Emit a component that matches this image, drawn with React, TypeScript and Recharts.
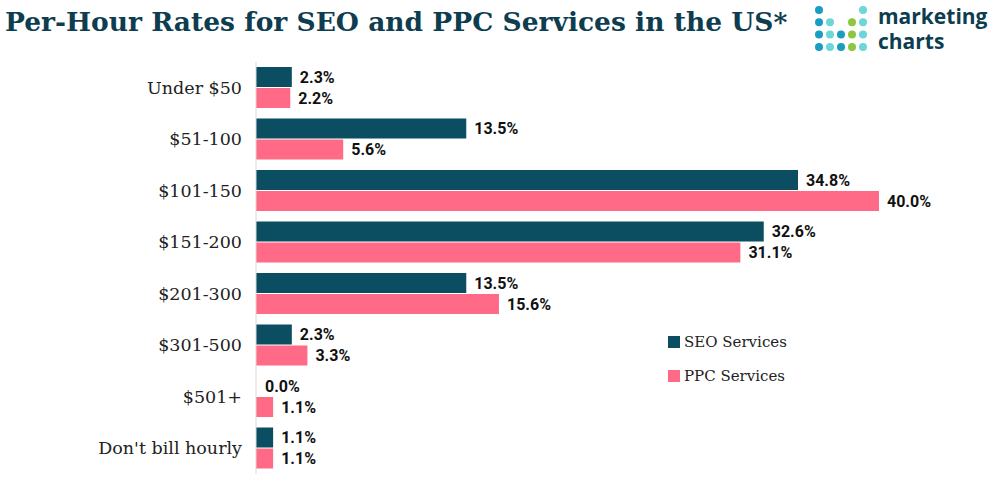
import React from 'react';
import { Bar, BarChart, Cell, LabelList, XAxis, YAxis } from 'recharts';

const categories = [
  'Under $50',
  '$51-100',
  '$101-150',
  '$151-200',
  '$201-300',
  '$301-500',
  '$501+',
  "Don't bill hourly",
];
const seoValues = [2.3, 13.5, 34.8, 32.6, 13.5, 2.3, 0.0, 1.1];
const ppcValues = [2.2, 5.6, 40.0, 31.1, 15.6, 3.3, 1.1, 1.1];

const SEO_COLOR = '#0b4d61';
const PPC_COLOR = '#ff6b86';
const TITLE_COLOR = '#0d3d4f';

const data = categories.map((name, i) => ({ name, seo: seoValues[i], ppc: ppcValues[i] }));

const logoDots: [number, number, string][] = [
  [0, 0, '#1a9dc4'], [4, 0, '#6dd6d8'],
  [0, 1, '#1a9dc4'], [1, 1, '#6dd6d8'], [3, 1, '#8dc63f'], [4, 1, '#6dd6d8'],
  [0, 2, '#1a9dc4'], [1, 2, '#6dd6d8'], [2, 2, '#1a9dc4'], [3, 2, '#8dc63f'], [4, 2, '#6dd6d8'],
  [0, 3, '#1a9dc4'], [1, 3, '#6dd6d8'], [2, 3, '#1a9dc4'], [3, 3, '#8dc63f'], [4, 3, '#6dd6d8'],
];

const logoText = {
  position: 'absolute' as const,
  left: 66,
  fontFamily: '"Open Sans", sans-serif',
  fontWeight: 700,
  fontSize: 21,
  lineHeight: '21px',
  color: TITLE_COLOR,
};

function Logo() {
  return (
    <div style={{ position: 'absolute', left: 812, top: 4, width: 188, height: 52 }}>
      <svg width={60} height={52} style={{ position: 'absolute', left: 0, top: 0 }}>
        {logoDots.map(([c, r, col], i) => (
          <circle key={i} cx={7 + c * 11} cy={6 + r * 12.3} r={4} fill={col} />
        ))}
      </svg>
      <div style={{ ...logoText, top: 2 }}>marketing</div>
      <div style={{ ...logoText, top: 27 }}>charts</div>
    </div>
  );
}

function LegendBox() {
  const items = [
    { label: 'SEO Services', color: SEO_COLOR },
    { label: 'PPC Services', color: PPC_COLOR },
  ];
  return (
    <div
      style={{
        position: 'absolute',
        left: 668,
        top: 325,
        fontFamily: '"DejaVu Serif", serif',
        fontSize: 15,
        color: '#222',
      }}
    >
      {items.map((it) => (
        <div key={it.label} style={{ display: 'flex', alignItems: 'center', height: 34 }}>
          <span style={{ width: 12, height: 12, background: it.color, marginRight: 4, display: 'inline-block' }} />
          {it.label}
        </div>
      ))}
    </div>
  );
}

const fmt = (v: number) => `${Number(v).toFixed(1)}%`;
const labelStyle = { fontFamily: 'Roboto, sans-serif', fontWeight: 700, fontSize: 16, fill: '#111' };

export default function App() {
  return (
    <div style={{ position: 'absolute', left: 0, top: 0, width: 1000, height: 480, background: '#fff' }}>
      <div
        style={{
          position: 'absolute',
          left: 5,
          top: 6,
          fontFamily: '"DejaVu Serif", serif',
          fontWeight: 700,
          fontSize: 26.5,
          color: TITLE_COLOR,
          whiteSpace: 'nowrap',
        }}
      >
        Per-Hour Rates for SEO and PPC Services in the US*
      </div>
      <Logo />
      <BarChart
        width={1000}
        height={480}
        data={data}
        layout="vertical"
        margin={{ top: 62, right: 121, bottom: 6, left: 0 }}
        barSize={20}
        barGap={1}
        style={{ position: 'absolute', left: 0, top: 0 }}
      >
        <XAxis type="number" domain={[0, 40]} hide />
        <YAxis
          type="category"
          dataKey="name"
          width={256}
          axisLine={{ stroke: '#d9d9d9' }}
          tickLine={false}
          tickMargin={8}
          tick={{ fontFamily: '"DejaVu Serif", serif', fontSize: 17.5, fill: '#222' }}
        />
        <Bar dataKey="seo" name="SEO Services" fill={SEO_COLOR} minPointSize={1} isAnimationActive={false}>
          {seoValues.map((v, i) => (
            <Cell key={i} fill={v === 0 ? 'transparent' : SEO_COLOR} />
          ))}
          <LabelList dataKey="seo" position="right" offset={8} formatter={fmt} style={labelStyle} />
        </Bar>
        <Bar dataKey="ppc" name="PPC Services" fill={PPC_COLOR} isAnimationActive={false}>
          <LabelList dataKey="ppc" position="right" offset={8} formatter={fmt} style={labelStyle} />
        </Bar>
      </BarChart>
      <LegendBox />
    </div>
  );
}
